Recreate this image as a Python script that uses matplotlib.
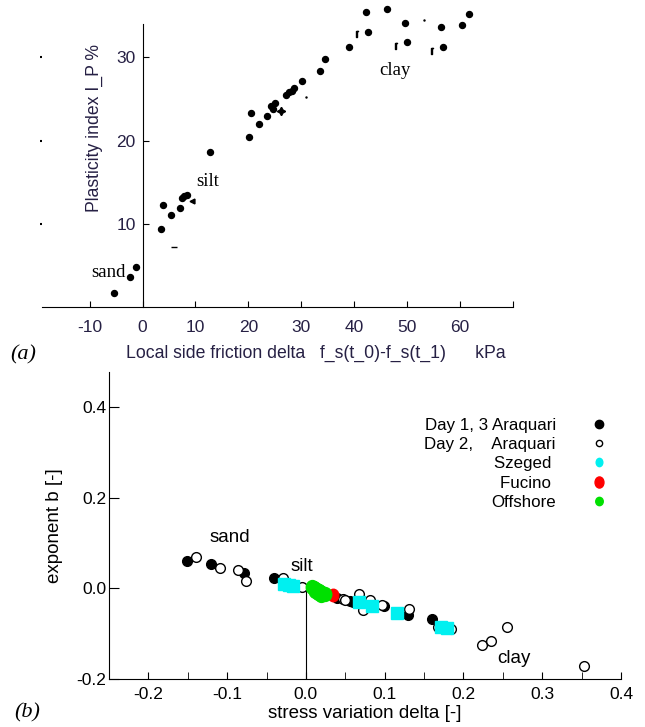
import numpy as np
import matplotlib
matplotlib.use("Agg")
import matplotlib.pyplot as plt
from matplotlib.lines import Line2D
from matplotlib.path import Path
from matplotlib.transforms import Affine2D

plt.rcParams['font.family'] = ['Liberation Sans', 'DejaVu Sans']
plt.rcParams['axes.unicode_minus'] = False

# ---- panel (a): plasticity index vs local side friction drop ----
fs_main = [-5.3, -2.4, -1.3, 3.5, 3.8, 5.4, 7.0, 7.5, 7.9, 8.4, 12.7,
           20.1, 20.5, 22.1, 23.5, 24.2, 25.1, 24.6, 27.2, 27.7, 28.3, 28.7,
           30.1, 33.5, 34.5, 39.1, 42.6, 42.3, 46.2, 49.6, 50.0, 56.8, 56.4,
           60.4, 61.7]
ip_main = [1.7, 3.6, 4.8, 9.4, 12.3, 11.1, 11.9, 13.1, 13.3, 13.5, 18.6,
           20.4, 23.3, 22.0, 22.9, 24.1, 24.5, 23.8, 25.5, 25.8, 26.0, 26.3,
           27.2, 28.4, 29.8, 31.2, 33.0, 35.4, 35.8, 34.1, 31.8, 31.2, 33.6,
           33.9, 35.2]
fs_hook = [40.5, 47.9, 54.7]
ip_hook = [32.8, 31.4, 30.8]
fs_star = [26.2]
ip_star = [23.5]
fs_tri = [9.4]
ip_tri = [12.7]
fs_dash = [5.9]
ip_dash = [7.2]
fs_dot = [30.8, 53.2]
ip_dot = [25.2, 34.5]
a_xticks = [-10, 0, 10, 20, 30, 40, 50, 60, 70]
a_xticklabels = ['-10', '0', '10', '20', '30', '40', '50', '60', '']
a_yticks = [10, 20, 30]
a_soil = [('sand', -6.4, 4.1), ('silt', 12.3, 15.1), ('clay', 47.7, 28.4)]

# ---- panel (b): exponent b vs stress variation ----
day13_x = [-0.151, -0.121, -0.079, -0.041, 0.039, 0.056, 0.060, 0.099, 0.129, 0.160]
day13_y = [0.061, 0.053, 0.033, 0.022, -0.021, -0.028, -0.030, -0.039, -0.059, -0.068]
day2_x = [-0.139, -0.109, -0.086, -0.076, -0.029, -0.005, 0.047, 0.050, 0.067,
          0.073, 0.081, 0.096, 0.131, 0.168, 0.184, 0.224, 0.235, 0.255, 0.353]
day2_y = [0.070, 0.044, 0.040, 0.017, 0.022, 0.002, -0.024, -0.025, -0.013,
          -0.048, -0.026, -0.036, -0.046, -0.085, -0.090, -0.124, -0.116, -0.085, -0.171]
szeged_x = [-0.028, -0.022, -0.016, 0.067, 0.084, 0.115, 0.171, 0.179]
szeged_y = [0.010, 0.008, 0.006, -0.031, -0.039, -0.055, -0.085, -0.088]
fucino_x = [0.035]
fucino_y = [-0.014]
offshore_x = [0.008, 0.010, 0.012, 0.014, 0.016, 0.018, 0.020, 0.022, 0.024,
              0.011, 0.015, 0.019]
offshore_y = [0.002, 0.000, -0.002, -0.004, -0.006, -0.008, -0.010, -0.012,
              -0.013, -0.006, -0.010, -0.014]
b_soil = [('sand', -0.096, 0.111), ('silt', -0.005, 0.049), ('clay', 0.264, -0.154)]
legend_labels = ['Day 1, 3 Araquari', 'Day 2,    Araquari', 'Szeged ', 'Fucino ', 'Offshore']

navy = '#262044'


def ellipse(sx, sy):
    return Path.unit_circle().transformed(Affine2D().scale(sx, sy))


fig = plt.figure(figsize=(6.45, 7.27), dpi=100)

# panel (a)
ax1 = fig.add_axes([0.0651, 0.5777, 0.7302, 0.3893])
ax1.plot(fs_main, ip_main, 'o', color='black', ms=4.3, clip_on=False)
ax1.plot(fs_hook, ip_hook, ls='none', marker=r'$\lceil$', color='black', ms=5, clip_on=False)
ax1.plot(fs_star, ip_star, ls='none', marker=(4, 1, 0), color='black', ms=6, clip_on=False)
ax1.plot(fs_tri, ip_tri, '<', color='black', ms=3.5, clip_on=False)
ax1.plot(fs_dash, ip_dash, '_', color='black', ms=4, mew=1, clip_on=False)
ax1.plot(fs_dot, ip_dot, '.', color='black', ms=1.5, clip_on=False)
for name, x, y in a_soil:
    ax1.text(x, y, name, family='Liberation Serif', fontsize=13.5, ha='center', va='center')

ax1.set_xlim(-19, 70)
ax1.set_ylim(0, 34)
ax1.spines['top'].set_visible(False)
ax1.spines['right'].set_visible(False)
ax1.spines['left'].set_position(('data', 0))
ax1.set_xticks(a_xticks)
ax1.set_xticklabels(a_xticklabels)
ax1.set_yticks(a_yticks)
ax1.tick_params(axis='x', direction='in', length=4, pad=9, labelsize=12.5, labelcolor=navy)
ax1.tick_params(axis='y', direction='in', length=4, pad=5, labelsize=12.5, labelcolor=navy)
ax1.set_ylabel('Plasticity index I_P %', fontsize=12.7, color=navy)
ax1.yaxis.set_label_coords(0.13, 0.634)
ax1.set_xlabel('Local side friction delta   f_s(t_0)-f_s(t_1)      kPa', fontsize=12.7, color=navy)
ax1.xaxis.set_label_coords(0.582, -0.134)
sec = ax1.secondary_yaxis(0.0)
sec.spines['left'].set_visible(False)
sec.set_yticks(a_yticks)
sec.tick_params(direction='out', length=1.5, width=1.5, labelleft=False)

fig.text(0.016, 1 - 355 / 727, '(a)', family='Liberation Serif', style='italic',
         fontsize=16, va='center')

# panel (b)
ax2 = fig.add_axes([0.169, 0.066, 0.7938, 0.4223])
ax2.vlines(0, -0.2, -0.003, color='black', lw=0.8)
ax2.plot(day13_x, day13_y, 'o', color='black', ms=7, zorder=3)
ax2.plot(day2_x, day2_y, 'o', mfc='white', mec='black', mew=1, ms=7, zorder=3)
ax2.plot(szeged_x, szeged_y, 's', color='#00f0f0', ms=8, zorder=4)
ax2.plot(fucino_x, fucino_y, ls='none', marker=ellipse(0.85, 1), color='#ff0000', ms=9, zorder=5)
ax2.plot(offshore_x, offshore_y, ls='none', marker=ellipse(0.9, 1), color='#00e000', ms=10, zorder=5)
for name, x, y in b_soil:
    ax2.text(x, y, name, fontsize=13.5, ha='center', va='center')

ax2.set_xlim(-0.25, 0.4)
ax2.set_ylim(-0.2, 0.477)
ax2.spines['top'].set_visible(False)
ax2.spines['right'].set_visible(False)
ax2.set_xticks(np.arange(-0.2, 0.41, 0.1))
ax2.set_xticks(np.arange(-0.25, 0.41, 0.05), minor=True)
ax2.set_xticklabels(['-0.2', '-0.1', '0.0', '0.1', '0.2', '0.3', '0.4'])
ax2.set_yticks([-0.2, 0.0, 0.2, 0.4])
ax2.set_yticklabels(['-0.2', '0.0', '0.2', '0.4'])
ax2.tick_params(axis='x', which='both', direction='in', length=5, pad=6, labelsize=12.5)
ax2.tick_params(axis='y', direction='in', length=7, pad=2, labelsize=12.5)
ax2.set_xlabel('stress variation delta [-]', fontsize=13.5)
ax2.xaxis.set_label_coords(0.5, -0.085)
ax2.set_ylabel('exponent b [-]', fontsize=13.5)
ax2.yaxis.set_label_coords(-0.09, 0.5)

handles = [
    Line2D([], [], ls='none', marker='o', color='black', ms=6),
    Line2D([], [], ls='none', marker='o', mfc='white', mec='black', mew=1, ms=4.5),
    Line2D([], [], ls='none', marker=ellipse(0.8, 1), color='#00f0f0', ms=6),
    Line2D([], [], ls='none', marker=ellipse(0.8, 1), color='#ff0000', ms=8),
    Line2D([], [], ls='none', marker=ellipse(0.9, 1), color='#00e000', ms=6),
]
ax2.legend(handles, legend_labels, markerfirst=False, frameon=False, fontsize=12.2,
           labelspacing=0.25, handletextpad=1.55, handlelength=2.0,
           loc='upper right', bbox_to_anchor=(1.02, 0.9))

fig.text(0.022, 1 - 713 / 727, '(b)', family='Liberation Serif', style='italic',
         fontsize=16, va='center')

fig.savefig('out.png', dpi=100)
